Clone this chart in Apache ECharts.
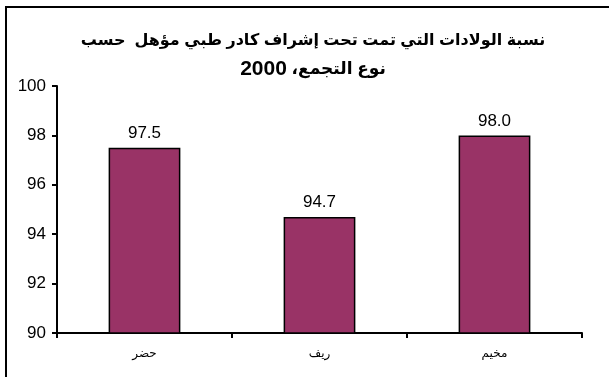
<!DOCTYPE html>
<html>
<head>
<meta charset="utf-8">
<script src="https://cdn.jsdelivr.net/npm/echarts@6/dist/echarts.min.js"></script>
<style>
  html, body { margin: 0; padding: 0; background: #fff; }
  #chart { width: 609px; height: 377px; }
</style>
</head>
<body>
<div id="chart"></div>
<script>
// Localities and the share of births attended by qualified medical staff (%)
const categories = ['حضر', 'ريف', 'مخيم'];
const values = [97.5, 94.7, 98.0];
const yTicks = { min: 90, max: 100, step: 2 };
const titleLine1 = 'نسبة الولادات التي تمت تحت إشراف كادر طبي مؤهل  حسب';
const titleLine2Words = 'نوع التجمع،';
const titleYear = '2000';

const chart = echarts.init(document.getElementById('chart'), null, { renderer: 'canvas' });

const titleFont = 'Arial, "Liberation Sans", "DejaVu Sans", sans-serif';

chart.setOption({
  animation: false,
  backgroundColor: '#ffffff',
  title: {
    // second line: the year sits left of the Arabic words (right-to-left order);
    // the trailing RLM keeps the Arabic comma attached on the left of the words
    text: '{a|' + titleLine1 + '}\n{y|' + titleYear + '}{b| ' + titleLine2Words + '\u200F}',
    left: 308,
    textAlign: 'center',
    top: 22,
    textStyle: {
      rich: {
        a: { fontFamily: titleFont, fontWeight: 'bold', fontSize: 16, lineHeight: 28, color: '#000' },
        b: { fontFamily: titleFont, fontWeight: 'bold', fontSize: 17, lineHeight: 28, color: '#000' },
        y: { fontFamily: titleFont, fontWeight: 'bold', fontSize: 21, lineHeight: 28, color: '#000' }
      }
    }
  },
  graphic: [{
    type: 'rect',
    shape: { x: 6, y: 7, width: 640, height: 420 },
    style: { fill: 'none', stroke: '#000', lineWidth: 2 },
    silent: true
  }],
  grid: { left: 57, right: 27, top: 86, bottom: 44, containLabel: false },
  xAxis: {
    type: 'category',
    data: categories,
    axisLine: { lineStyle: { color: '#000', width: 2 } },
    axisTick: { show: true, alignWithLabel: false, length: 5, lineStyle: { color: '#000', width: 2 } },
    axisLabel: {
      color: '#000',
      fontSize: 12,
      margin: 15,
      fontFamily: 'Arial, "Liberation Sans", "DejaVu Sans", sans-serif'
    }
  },
  yAxis: {
    type: 'value',
    min: yTicks.min,
    max: yTicks.max,
    interval: yTicks.step,
    splitLine: { show: false },
    axisLine: { show: true, lineStyle: { color: '#000', width: 2 } },
    axisTick: { show: true, length: 5, lineStyle: { color: '#000', width: 2 } },
    axisLabel: {
      color: '#000',
      fontSize: 17,
      margin: 11,
      fontFamily: 'Arial, "Liberation Sans", sans-serif'
    }
  },
  series: [{
    type: 'bar',
    data: values,
    barWidth: '41%',
    itemStyle: { color: '#993366', borderColor: '#000', borderWidth: 1.5 },
    label: {
      show: true,
      position: 'top',
      distance: 6,
      color: '#000',
      fontSize: 17,
      fontFamily: 'Arial, "Liberation Sans", sans-serif',
      formatter: p => p.value.toFixed(1)
    }
  }]
});
</script>
</body>
</html>
